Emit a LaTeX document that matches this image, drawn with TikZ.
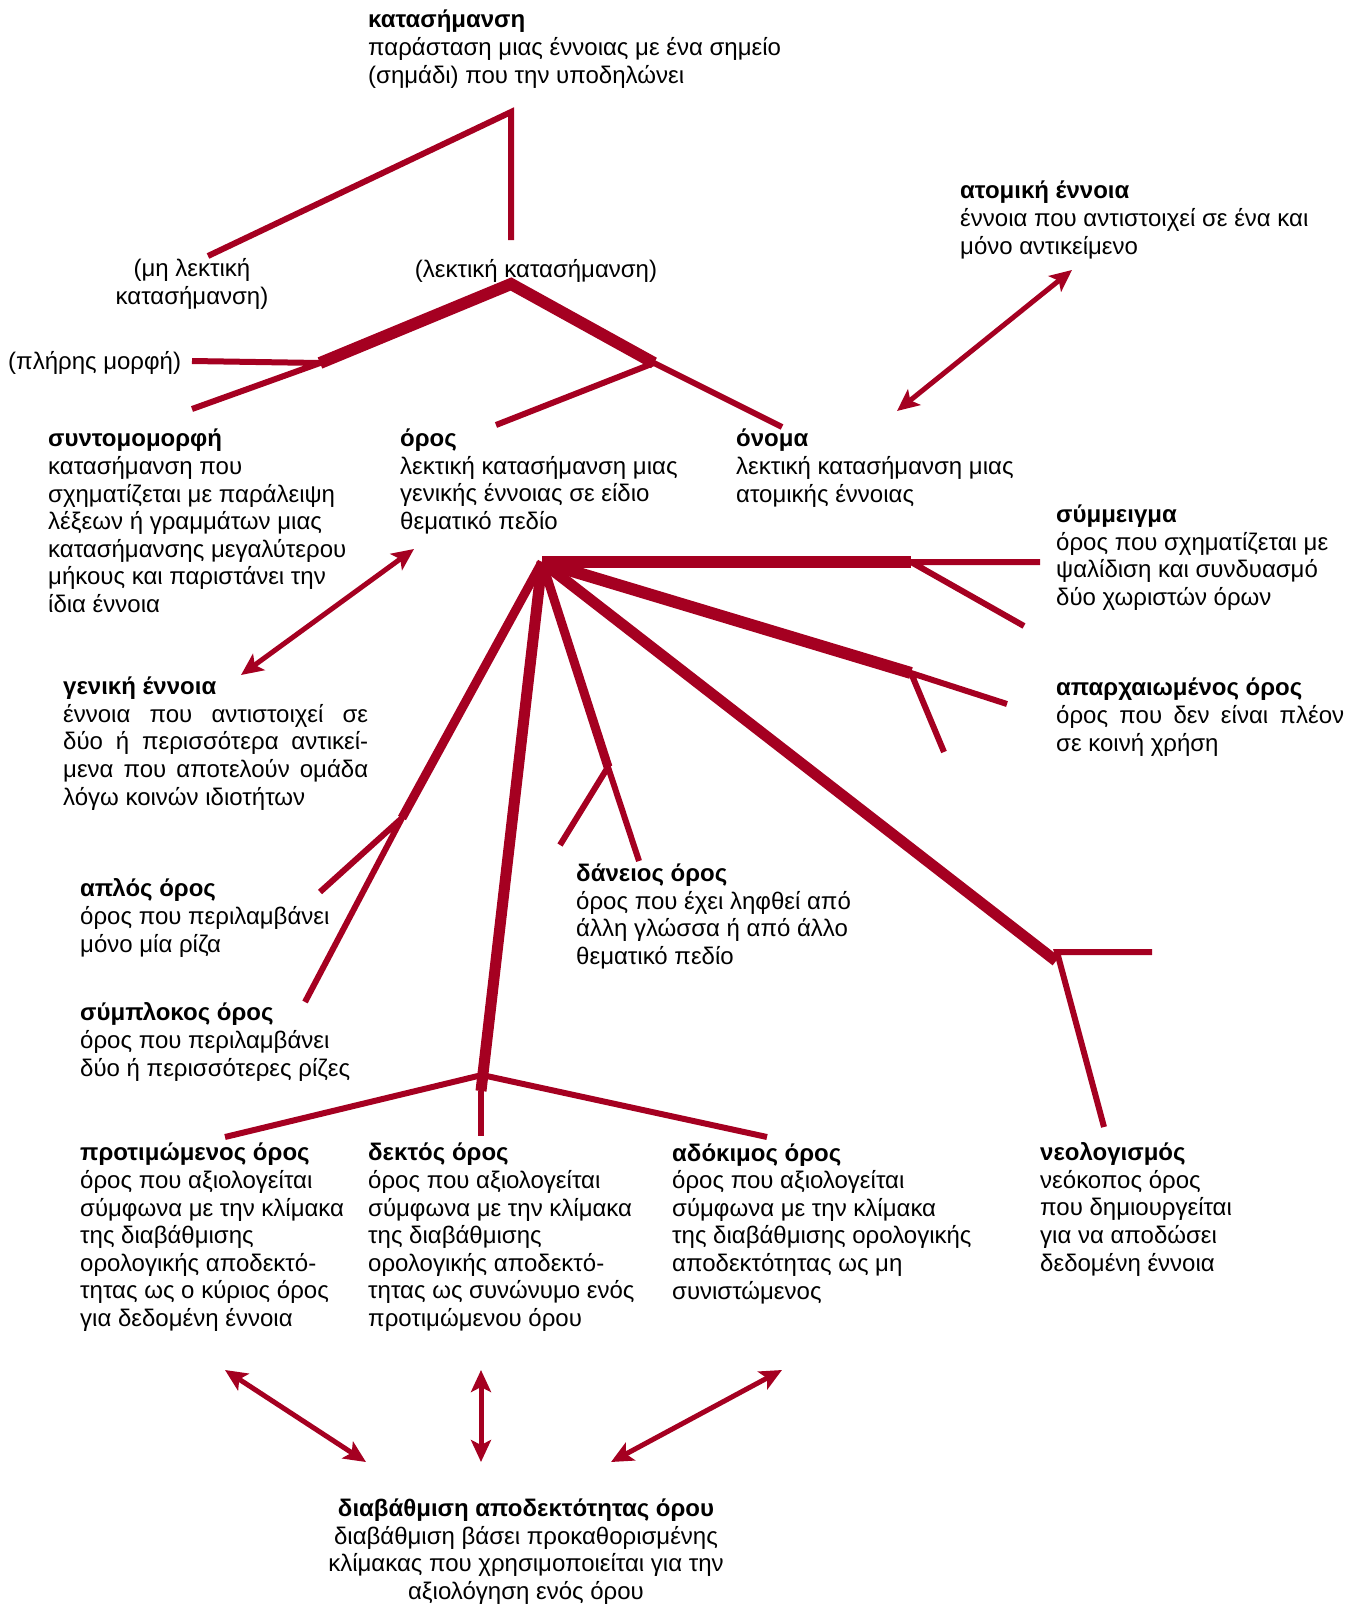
\documentclass[tikz,border=0pt]{standalone}
\usepackage{fontspec}
\setmainfont{Liberation Sans}
\usetikzlibrary{arrows.meta}
\definecolor{wine}{RGB}{165,0,33}

\begin{document}
\begin{tikzpicture}[x=1pt,y=-1pt,line join=miter,
  lbl/.style={anchor=base west,align=left,inner sep=0pt,font=\fontsize{24}{27.6}\selectfont},
  mid/.style={lbl,anchor=base,align=center},
  branch/.style={draw=wine,line width=6pt},
  trunk/.style={draw=wine,line width=11pt},
  arr/.style={draw=wine,line width=5pt,{Stealth[length=22pt,width=20pt,inset=5pt]}-{Stealth[length=22pt,width=20pt,inset=5pt]}}]
\useasboundingbox (0,0) rectangle (1357,1604);

% texts (placed at the baseline of their last line)
\node[lbl] (notation) at (368,83) {\textbf{κατασήμανση}\\παράσταση μιας έννοιας με ένα σημείο\\(σημάδι) που την υποδηλώνει};
\node[mid] (nonverbal) at (192,304) {(μη λεκτική\\κατασήμανση)};
\node[mid] (verbal) at (536,277) {(λεκτική κατασήμανση)};
\node[lbl] (fullform) at (8,369) {(πλήρης μορφή)};
\node[lbl] (abbrev) at (48,612.5) {\textbf{συντομομορφή}\\κατασήμανση που\\σχηματίζεται με παράλειψη\\λέξεων ή γραμμάτων μιας\\κατασήμανσης μεγαλύτερου\\μήκους και παριστάνει την\\ίδια έννοια};
\node[lbl] (term) at (400,529.5) {\textbf{όρος}\\λεκτική κατασήμανση μιας\\γενικής έννοιας σε είδιο\\θεματικό πεδίο};
\node[lbl] (name) at (736,502) {\textbf{όνομα}\\λεκτική κατασήμανση μιας\\ατομικής έννοιας};
\node[lbl] (indiv) at (960,254) {\textbf{ατομική έννοια}\\έννοια που αντιστοιχεί σε ένα και\\μόνο αντικείμενο};
\node[lbl] (blend) at (1056,605.5) {\textbf{σύμμειγμα}\\όρος που σχηματίζεται με\\ψαλίδιση και συνδυασμό\\δύο χωριστών όρων};
\node[lbl] (obsolete) at (1056,751) {\textbf{απαρχαιωμένος όρος}\\\makebox[288pt][s]{όρος που δεν είναι πλέον}\\σε κοινή χρήση};
\node[lbl] (general) at (63,805) {\textbf{γενική έννοια}\\\makebox[305pt][s]{έννοια που αντιστοιχεί σε}\\\makebox[305pt][s]{δύο ή περισσότερα αντικεί-}\\\makebox[305pt][s]{μενα που αποτελούν ομάδα}\\λόγω κοινών ιδιοτήτων};
\node[lbl] (simple) at (80,952) {\textbf{απλός όρος}\\όρος που περιλαμβάνει\\μόνο μία ρίζα};
\node[lbl] (complex) at (80,1076) {\textbf{σύμπλοκος όρος}\\όρος που περιλαμβάνει\\δύο ή περισσότερες ρίζες};
\node[lbl] (loan) at (576,964.5) {\textbf{δάνειος όρος}\\όρος που έχει ληφθεί από\\άλλη γλώσσα ή από άλλο\\θεματικό πεδίο};
\node[lbl] (preferred) at (80,1326.5) {\textbf{προτιμώμενος όρος}\\όρος που αξιολογείται\\σύμφωνα με την κλίμακα\\της διαβάθμισης\\ορολογικής αποδεκτό-\\τητας ως ο κύριος όρος\\για δεδομένη έννοια};
\node[lbl] (admitted) at (368,1326.5) {\textbf{δεκτός όρος}\\όρος που αξιολογείται\\σύμφωνα με την κλίμακα\\της διαβάθμισης\\ορολογικής αποδεκτό-\\τητας ως συνώνυμο ενός\\προτιμώμενου όρου};
\node[lbl] (deprecated) at (672,1299) {\textbf{αδόκιμος όρος}\\όρος που αξιολογείται\\σύμφωνα με την κλίμακα\\της διαβάθμισης ορολογικής\\αποδεκτότητας ως μη\\συνιστώμενος};
\node[lbl] (neologism) at (1040,1271) {\textbf{νεολογισμός}\\νεόκοπος όρος\\που δημιουργείται\\για να αποδώσει\\δεδομένη έννοια};
\node[mid] (rating) at (526,1599.5) {\textbf{διαβάθμιση αποδεκτότητας όρου}\\διαβάθμιση βάσει προκαθορισμένης\\κλίμακας που χρησιμοποιείται για την\\αξιολόγηση ενός όρου};

% upper tree
\coordinate (t0) at (511,112);
\coordinate (t1) at (208,256);
\coordinate (t2) at (511,240);
\coordinate (v0) at (511,284);
\coordinate (va) at (320,363);
\coordinate (vb) at (654,363);
\coordinate (a1) at (192,361);
\coordinate (a2) at (192,409);
\coordinate (b1) at (496,425);
\coordinate (b2) at (782,427);
\draw[branch] (t1) -- (t0) -- (t2);
\draw[trunk,line width=12pt] (va) -- (v0) -- (vb);
\draw[branch] (a1) -- (va) -- (a2);
\draw[branch] (b1) -- (vb) -- (b2);

% hub
\coordinate (hub) at (542,562);
\coordinate (h1) at (911,562);
\coordinate (h2) at (911,673);
\coordinate (h3) at (1056,961);
\coordinate (h4) at (608,767);
\coordinate (h5) at (402,818);
\coordinate (h6) at (481,1091);
\draw[trunk,line width=12pt] (hub) -- (h1);
\draw[trunk,line width=12pt] (hub) -- (h2);
\draw[trunk] (hub) -- (h3);
\draw[trunk,line width=9pt] (hub) -- (h4);
\draw[trunk,line width=9pt] (hub) -- (h5);
\draw[trunk] (hub) -- (h6);
\coordinate (j3) at (1057,952);
\coordinate (j6) at (482,1075);
\coordinate (c1) at (1040,562);
\coordinate (c2) at (1024,626);
\coordinate (c3) at (1007,704);
\coordinate (c4) at (944,752);
\coordinate (c5) at (1152,952);
\coordinate (c6) at (1104,1127);
\coordinate (c7) at (560,845);
\coordinate (c8) at (639,861);
\coordinate (c9) at (320,892);
\coordinate (c10) at (305,1002);
\coordinate (c11) at (225,1137);
\coordinate (c12) at (481,1136);
\coordinate (c13) at (767,1137);
\draw[branch] (c1) -- (h1) -- (c2);
\draw[branch] (c3) -- (h2) -- (c4);
\draw[branch] (c5) -- (j3) -- (c6);
\draw[branch] (c7) -- (h4) -- (c8);
\draw[branch] (c9) -- (h5) -- (c10);
\draw[branch] (c11) -- (j6) -- (c13);
\draw[branch] (h6) -- (c12);

% arrows
\coordinate (p1) at (897,411);
\coordinate (p2) at (1072,270);
\coordinate (q1) at (241,675);
\coordinate (q2) at (414,549);
\draw[arr] (p1) -- (p2);
\draw[arr] (q1) -- (q2);
\coordinate (r1) at (225,1370);
\coordinate (r2) at (366,1462);
\coordinate (r3) at (481,1370);
\coordinate (r4) at (481,1462);
\coordinate (r5) at (782,1370);
\coordinate (r6) at (611,1462);
\draw[arr] (r1) -- (r2);
\draw[arr] (r3) -- (r4);
\draw[arr] (r5) -- (r6);
\end{tikzpicture}
\end{document}
